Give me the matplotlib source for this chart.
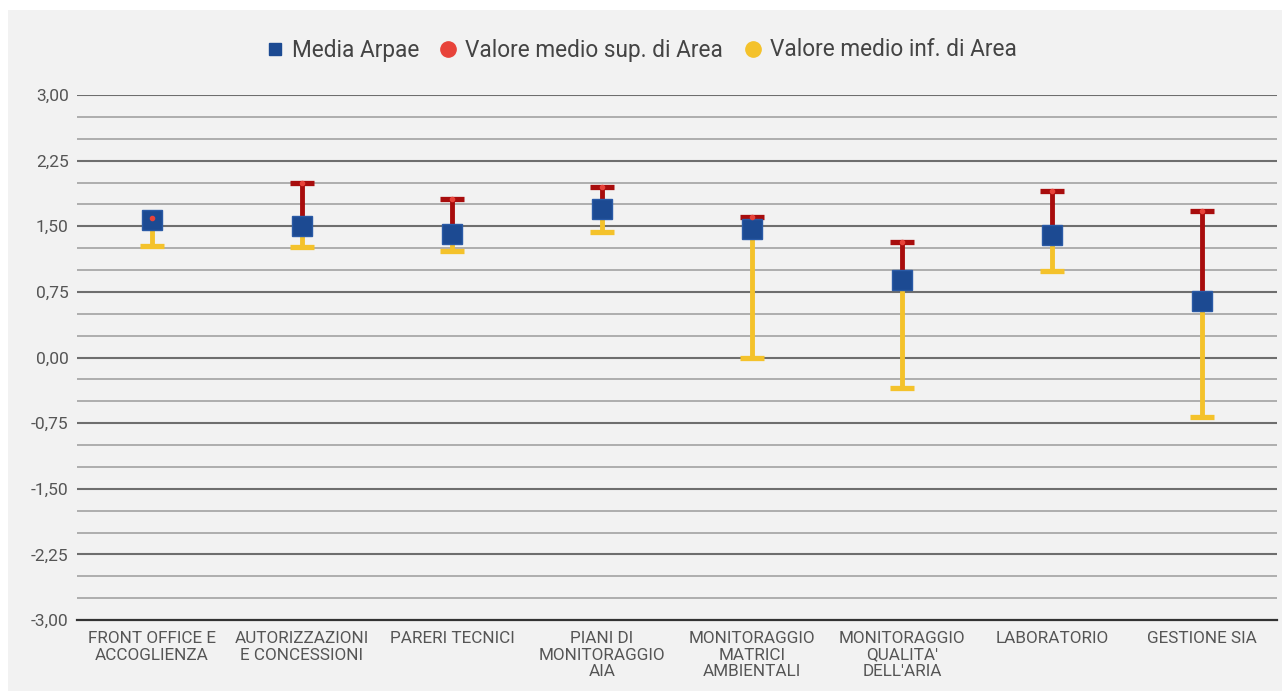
import matplotlib
matplotlib.use("Agg")
import matplotlib.pyplot as plt
from matplotlib.lines import Line2D
from matplotlib.patches import Rectangle
import numpy as np

categories = ["FRONT OFFICE E\nACCOGLIENZA", "AUTORIZZAZIONI\nE CONCESSIONI", "PARERI TECNICI",
              "PIANI DI\nMONITORAGGIO\nAIA", "MONITORAGGIO\nMATRICI\nAMBIENTALI",
              "MONITORAGGIO\nQUALITA'\nDELL'ARIA", "LABORATORIO", "GESTIONE SIA"]
media_arpae = [1.57, 1.50, 1.41, 1.70, 1.47, 0.89, 1.40, 0.65]
valore_sup = [1.60, 2.00, 1.81, 1.95, 1.61, 1.32, 1.90, 1.67]
valore_inf = [1.28, 1.26, 1.22, 1.43, 0.00, -0.35, 0.99, -0.68]
y_ticks = [3.00, 2.25, 1.50, 0.75, 0.00, -0.75, -1.50, -2.25, -3.00]
y_tick_labels = ["3,00", "2,25", "1,50", "0,75", "0,00", "-0,75", "-1,50", "-2,25", "-3,00"]

plt.rcParams['font.family'] = ['Roboto', 'DejaVu Sans']

BG = "#f2f2f2"
BLUE = "#1c4a92"
DARKRED = "#a80d0d"
RED = "#e8433a"
YELLOW = "#f4c22b"

fig = plt.figure(figsize=(12.82, 6.91), dpi=100)
fig.patch.set_facecolor("white")
fig.patches.append(Rectangle((8/1282, 0), 1 - 8/1282, 1 - 10/691, transform=fig.transFigure,
                             facecolor=BG, edgecolor="none", zorder=-10))

ax = fig.add_axes([77/1282, 1 - 620/691, 1200/1282, 525/691])
ax.set_facecolor(BG)
for s in ax.spines.values():
    s.set_visible(False)

x = np.arange(len(categories))
ax.set_xlim(-0.5, len(categories) - 0.5)
ax.set_ylim(-3.0, 3.0)

# grid lines
for v in np.arange(-3.0, 3.0001, 0.25):
    major = abs((v / 0.75) - round(v / 0.75)) < 1e-6
    if abs(v + 3.0) < 1e-6:
        ax.axhline(v, color="#333333", lw=1.6, zorder=1, clip_on=False)
    elif major:
        ax.axhline(v, color="#6e6e6e", lw=1.5, zorder=1)
    else:
        ax.axhline(v, color="#a8a8a8", lw=1.3, zorder=1)

m = np.array(media_arpae)
sup = np.array(valore_sup)
inf = np.array(valore_inf)

# half-height of the mean marker in data units (caps hidden inside it are not drawn)
half_sq = 0.11

# upper bars (to Valore medio sup.)
ax.vlines(x, m, sup, colors=DARKRED, lw=3.5, zorder=3)
show_up = (sup - m) > half_sq
ax.plot(x[show_up], sup[show_up], linestyle="none", marker="_", markersize=17,
        markeredgewidth=3.8, color=DARKRED, zorder=3)
# lower bars (to Valore medio inf.)
ax.vlines(x, inf, m, colors=YELLOW, lw=3.5, zorder=3)
show_lo = (m - inf) > half_sq
ax.plot(x[show_lo], inf[show_lo], linestyle="none", marker="_", markersize=17,
        markeredgewidth=3.8, color=YELLOW, zorder=3)

ax.plot(x, m, linestyle="none", marker="s", markersize=14, color=BLUE,
        markeredgecolor="#2a5aa6", markeredgewidth=1, zorder=5)
ax.plot(x, sup, linestyle="none", marker="o", markersize=3, color=RED, zorder=6)

ax.set_yticks(y_ticks)
ax.set_yticklabels(y_tick_labels)
ax.set_xticks(x)
ax.set_xticklabels(categories, linespacing=1.12)
ax.tick_params(axis="y", length=0, pad=6, labelsize=12.5, labelcolor="#555555")
ax.tick_params(axis="x", length=0, pad=8, labelsize=12.3, labelcolor="#555555")

handles = [
    Line2D([], [], linestyle="none", marker="s", markersize=9, color=BLUE),
    Line2D([], [], linestyle="none", marker="o", markersize=11, color=RED),
    Line2D([], [], linestyle="none", marker="o", markersize=11, color=YELLOW),
]
labels = ["Media Arpae", "Valore medio sup. di Area", "Valore medio inf. di Area"]
fig.legend(handles, labels, loc="center", bbox_to_anchor=(0.5, 1 - 50/691), ncol=3,
           frameon=False, fontsize=16.3, handlelength=0.8, handletextpad=0.35,
           columnspacing=0.9, labelcolor="#444444")

fig.savefig("out.png", dpi=100, facecolor=fig.get_facecolor())
